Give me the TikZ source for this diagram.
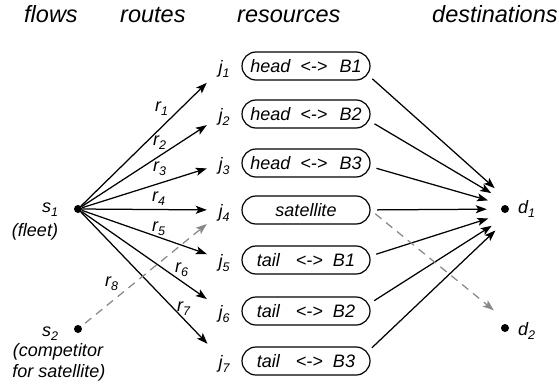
\documentclass[tikz,border=0pt]{standalone}
\usepackage{fontspec}
\setmainfont{Liberation Sans}
\usetikzlibrary{arrows.meta}
\definecolor{dashgray}{RGB}{136,136,136}

% letter with a lowered index
\newcommand\withsub[2]{#1\raisebox{-4pt}{\fontsize{12.5}{12.5}\selectfont #2}}

\begin{document}
\begin{tikzpicture}[x=1pt,y=-1pt,
  every node/.style={font=\fontsize{18}{21}\selectfont\itshape},
  hdr/.style={font=\fontsize{23.5}{27}\selectfont\itshape, anchor=base west, inner sep=0},
  res/.style={draw, rounded corners=14pt, minimum width=128pt, minimum height=28pt, inner sep=0, line width=1.2pt},
  jtgt/.style={minimum width=34pt, minimum height=34pt, inner sep=0, text height=15pt, text depth=0pt},
  srcpt/.style={circle, minimum size=38pt, inner sep=0},
  sinkpt/.style={circle, minimum size=62pt, inner sep=0},
  vertex/.style={circle, fill, minimum size=8pt, inner sep=0},
  lbl/.style={anchor=base west, inner sep=0},
  txt/.style={anchor=base, inner sep=0},
  flow/.style={line width=1.25pt, -{Stealth[length=11pt,width=8pt,inset=2.5pt]}},
  rival/.style={flow, dashgray, dash pattern=on 8pt off 6pt}]
\useasboundingbox (0,0) rectangle (559,388);

% column headings
\node[hdr] (h1) at (24,22) {flows};
\node[hdr] (h2) at (120,22) {routes};
\node[hdr] (h3) at (237,22) {resources};
\node[hdr] (h4) at (432,22) {destinations};

% sources
\node[vertex] (s1) at (78,209) {};
\node[vertex] (s2) at (78,329) {};
\node[lbl] (s1l) at (42,212.5) {\withsub{s}{1}};
\node[txt] (s1n) at (35,236.7) {(fleet)};
\node[lbl] (s2l) at (42,336.5) {\withsub{s}{2}};
\node[txt] (s2n1) at (58,356.7) {(competitor};
\node[txt] (s2n2) at (59,377.7) {for satellite)};

% resources
\node[res] (b1) at (306,66)  {head\hspace{10pt}<->\hspace{12pt}B1};
\node[res] (b2) at (306,114) {head\hspace{10pt}<->\hspace{12pt}B2};
\node[res] (b3) at (306,163) {head\hspace{10pt}<->\hspace{12pt}B3};
\node[res] (b4) at (306,210) {satellite};
\node[res] (b5) at (306,260) {tail\hspace{16pt}<->\hspace{10pt}B1};
\node[res] (b6) at (306,311) {tail\hspace{16pt}<->\hspace{10pt}B2};
\node[res] (b7) at (306,361) {tail\hspace{16pt}<->\hspace{10pt}B3};

% resource labels (also the route targets)
\node[jtgt] (j1) at (224,66)  {\withsub{j}{1}};
\node[jtgt] (j2) at (224,114) {\withsub{j}{2}};
\node[jtgt] (j3) at (224,163) {\withsub{j}{3}};
\node[jtgt] (j4) at (224,210) {\withsub{j}{4}};
\node[jtgt] (j5) at (224,260) {\withsub{j}{5}};
\node[jtgt] (j6) at (224,311) {\withsub{j}{6}};
\node[jtgt] (j7) at (224,361) {\withsub{j}{7}};

% exits on the right of the resources
\foreach \k/\y in {1/66,2/114,3/163,4/210,5/260,6/311,7/361}
  \node[srcpt] (o\k) at (358,\y) {};

% destinations
\node[sinkpt] (t1) at (518,209) {};
\node[sinkpt] (t2) at (518,330) {};
\node[vertex] (d1) at (505,209) {};
\node[vertex] (d2) at (505,328) {};
\node[lbl] (d1l) at (518,213.5) {\withsub{d}{1}};
\node[lbl] (d2l) at (518,335.5) {\withsub{d}{2}};

% routes
\foreach \k in {1,...,7}
  \draw[flow] (s1) -- (j\k);
\draw[rival, shorten <=5pt] (s2) -- (j4);

\node[lbl] (r1) at (155,111.5) {\withsub{r}{1}};
\node[lbl] (r2) at (153,145.5) {\withsub{r}{2}};
\node[lbl] (r3) at (153,171.5) {\withsub{r}{3}};
\node[lbl] (r4) at (152,201) {\withsub{r}{4}};
\node[lbl] (r5) at (152,231) {\withsub{r}{5}};
\node[lbl] (r6) at (175,272) {\withsub{r}{6}};
\node[lbl] (r7) at (177,311) {\withsub{r}{7}};
\node[lbl] (r8) at (105,286) {\withsub{r}{8}};

% resources to destinations
\foreach \k in {1,...,7}
  \draw[flow] (o\k) -- (t1);
\draw[rival, shorten <=6pt] (b4.east) -- (t2);
\end{tikzpicture}
\end{document}
